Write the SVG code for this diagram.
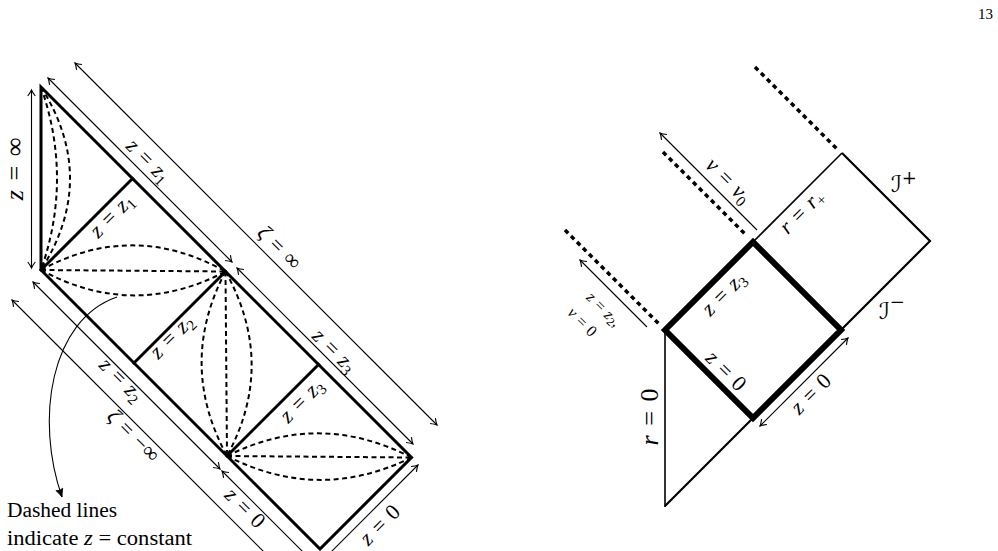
<svg xmlns="http://www.w3.org/2000/svg" width="998" height="551" viewBox="0 0 998 551">
<style>
.thick{fill:none;stroke:#000;stroke-width:3;stroke-linejoin:miter;stroke-linecap:square}
.sq{fill:none;stroke:#000;stroke-width:6;stroke-linejoin:miter}
.thin{fill:none;stroke:#000;stroke-width:1.6}
.mid{fill:none;stroke:#000;stroke-width:2.2}
.dash{fill:none;stroke:#000;stroke-width:2;stroke-dasharray:5 3.5}
.dot{fill:none;stroke:#000;stroke-width:3.5;stroke-dasharray:4.5 4}
.arr{fill:none;stroke:#000;stroke-width:1.1}
.lb{font-family:"Liberation Serif","DejaVu Serif",serif;font-size:22px;word-spacing:2px;text-anchor:middle;fill:#000}
.big{font-size:26px;word-spacing:3px}
.sm{font-size:16px;word-spacing:1px}
.i{font-style:italic}
.sub{font-size:15px}
.sm .sub{font-size:12px}
.scr{font-family:"DejaVu Serif","DejaVu Sans","Noto Sans",serif;font-style:italic;font-size:23px;fill:#000}
.txt{font-family:"Liberation Serif","DejaVu Serif",serif;font-size:20px;fill:#000}
</style>
<defs>
<marker id="ah" viewBox="-8 -5 10 10" refX="0" refY="0" markerWidth="10" markerHeight="10" markerUnits="userSpaceOnUse" orient="auto-start-reverse" overflow="visible">
<path d="M-6,-3.8 Q-2.5,-1 0,0 Q-2.5,1 -6,3.8" fill="none" stroke="#000" stroke-width="1.1"/>
</marker>
<marker id="ahf" viewBox="-9 -5 10 10" refX="0" refY="0" markerWidth="10" markerHeight="10" markerUnits="userSpaceOnUse" orient="auto" overflow="visible">
<path d="M-8,-3.5 Q-3,-1 0,0 Q-3,1 -8,3.5 Q-6,0 -8,-3.5 Z" fill="#000" stroke="#000" stroke-width="0.8"/>
</marker>
</defs>
<rect width="998" height="551" fill="#fff"/>

<text x="993" y="19" text-anchor="end" style="font-family:'Liberation Serif',serif;font-size:15px">13</text>

<g id="left-diagram">
  <g id="left-dashed">
    <path class="dash" d="M41,87 Q73,178.5 41,270"/>
    <path class="dash" d="M41,87 Q99,178.5 41,270"/>
    <path class="dash" d="M41,270 L225.5,271.5"/>
    <path class="dash" d="M41,270 Q133,220 225.5,271.5"/>
    <path class="dash" d="M41,270 Q133,320 225.5,271.5"/>
    <path class="dash" d="M225.5,271.5 L227,456"/>
    <path class="dash" d="M225.5,271.5 Q177,364 227,456"/>
    <path class="dash" d="M225.5,271.5 Q277,364 227,456"/>
    <path class="dash" d="M227,456 L411.5,457.5"/>
    <path class="dash" d="M227,456 Q319,410 411.5,457.5"/>
    <path class="dash" d="M227,456 Q319,503 411.5,457.5"/>
  </g>
  <g id="left-edges">
    <path class="thick" d="M41,270 L41,87 L411.5,457.5 L320,549 Z"/>
    <line class="thick" x1="41" y1="270" x2="132.5" y2="178.5"/>
    <line class="thick" x1="225.5" y1="271.5" x2="134" y2="363"/>
    <line class="thick" x1="227" y1="456" x2="318.5" y2="364.5"/>
  </g>
  <g id="left-inner-labels">
    <text class="lb" transform="translate(113,217) rotate(-45)" y="5"><tspan class="i">z</tspan> = <tspan class="i">z</tspan><tspan class="sub" dy="4">1</tspan></text>
    <text class="lb" transform="translate(173,338) rotate(-45)" y="5"><tspan class="i">z</tspan> = <tspan class="i">z</tspan><tspan class="sub" dy="4">2</tspan></text>
    <text class="lb" transform="translate(303,402) rotate(-45)" y="5"><tspan class="i">z</tspan> = <tspan class="i">z</tspan><tspan class="sub" dy="4">3</tspan></text>
  </g>
</g>

<g id="connectors">
  <line class="arr" x1="31.5" y1="90" x2="31.5" y2="268" marker-start="url(#ah)" marker-end="url(#ah)"/>
  <line class="arr" x1="48" y1="78" x2="232" y2="262" marker-start="url(#ah)" marker-end="url(#ah)"/>
  <line class="arr" x1="237" y1="268" x2="413" y2="444" marker-start="url(#ah)" marker-end="url(#ah)"/>
  <line class="arr" x1="75" y1="63" x2="437" y2="425" marker-start="url(#ah)" marker-end="url(#ah)"/>
  <line class="arr" x1="33" y1="282" x2="220" y2="469" marker-start="url(#ah)" marker-end="url(#ah)"/>
  <line class="arr" x1="222" y1="471" x2="312" y2="561" marker-start="url(#ah)"/>
  <line class="arr" x1="12" y1="300" x2="272" y2="560" marker-start="url(#ah)"/>
  <line class="arr" x1="418" y1="465" x2="320" y2="563" marker-start="url(#ah)"/>
  <path class="arr" d="M117,297 C50,320 35,420 62,497" stroke-width="1.3" marker-end="url(#ahf)"/>
  <line class="arr" x1="660" y1="133" x2="757" y2="230" marker-start="url(#ah)"/>
  <line class="arr" x1="580" y1="260" x2="647" y2="327" marker-start="url(#ah)"/>
  <line class="arr" x1="848" y1="338" x2="760" y2="426" marker-start="url(#ah)" marker-end="url(#ah)"/>
</g>

<g id="left-labels">
  <text class="lb big" transform="translate(16,169) rotate(-90)" y="7"><tspan class="i">z</tspan> = ∞</text>
  <text class="lb" transform="translate(147,162) rotate(45)" y="5"><tspan class="i">z</tspan> = <tspan class="i">z</tspan><tspan class="sub" dy="4">1</tspan></text>
  <text class="lb" transform="translate(278,249) rotate(45)" y="5"><tspan class="i">ζ</tspan> = ∞</text>
  <text class="lb" transform="translate(333,352) rotate(45)" y="5"><tspan class="i">z</tspan> = <tspan class="i">z</tspan><tspan class="sub" dy="4">3</tspan></text>
  <text class="lb" transform="translate(120,381) rotate(45)" y="5"><tspan class="i">z</tspan> = <tspan class="i">z</tspan><tspan class="sub" dy="4">2</tspan></text>
  <text class="lb" transform="translate(132,437) rotate(45)" y="5"><tspan class="i">ζ</tspan> = −∞</text>
  <text class="lb" transform="translate(245,508) rotate(45)" y="7"><tspan class="i">z</tspan> = 0</text>
  <text class="lb" transform="translate(380,525) rotate(-45)" y="7"><tspan class="i">z</tspan> = 0</text>
  <text class="txt" x="7" y="517" textLength="110" lengthAdjust="spacingAndGlyphs">Dashed lines</text>
  <text class="txt" x="7" y="545" textLength="185" lengthAdjust="spacingAndGlyphs">indicate <tspan class="i">z</tspan> = constant</text>
</g>

<g id="right-diagram">
  <g id="right-dotted">
    <line class="dot" x1="755" y1="67" x2="838" y2="150"/>
    <line class="dot" x1="663" y1="152" x2="747" y2="236"/>
    <line class="dot" x1="565" y1="230" x2="661" y2="326"/>
  </g>
  <g id="right-edges">
    <line class="thin" x1="753" y1="242" x2="842" y2="153"/>
    <polyline class="mid" points="842,153 930,241 665,506"/>
    <line class="thin" x1="665" y1="330" x2="665" y2="507"/>
    <path class="sq" d="M665,330 L753,242 L841,330 L753,418 Z"/>
  </g>
  <g id="right-labels">
    <text class="lb" transform="translate(727,182) rotate(45)" y="5"><tspan class="i">v</tspan> = <tspan class="i">v</tspan><tspan class="sub" dy="4">0</tspan></text>
    <text class="lb" transform="translate(803,213) rotate(-45)" y="5"><tspan class="i">r</tspan> = <tspan class="i">r</tspan><tspan class="sub" dy="4">+</tspan></text>
    <text class="lb" transform="translate(725,295) rotate(-45)" y="5"><tspan class="i">z</tspan> = <tspan class="i">z</tspan><tspan class="sub" dy="4">3</tspan></text>
    <text class="lb" transform="translate(726,371) rotate(45)" y="7"><tspan class="i">z</tspan> = 0</text>
    <text class="lb" transform="translate(811,394) rotate(-45)" y="7"><tspan class="i">z</tspan> = 0</text>
    <text class="lb big" transform="translate(650,417) rotate(-90)" y="8"><tspan class="i">r</tspan> = 0</text>
    <text class="lb sm" transform="translate(603,310) rotate(45)" y="4"><tspan class="i">z</tspan> = <tspan class="i">z</tspan><tspan class="sub" dy="3">2</tspan><tspan dy="-3">,</tspan></text>
    <text class="lb sm" transform="translate(582,322) rotate(45)" y="5"><tspan class="i">v</tspan> = 0</text>
    <text class="scr" x="891" y="192">ℐ<tspan style="font-style:normal;font-size:18px" dy="-8">+</tspan></text>
    <text class="scr" x="879" y="319">ℐ<tspan style="font-style:normal;font-size:18px" dy="-11">−</tspan></text>
  </g>
</g>
</svg>
